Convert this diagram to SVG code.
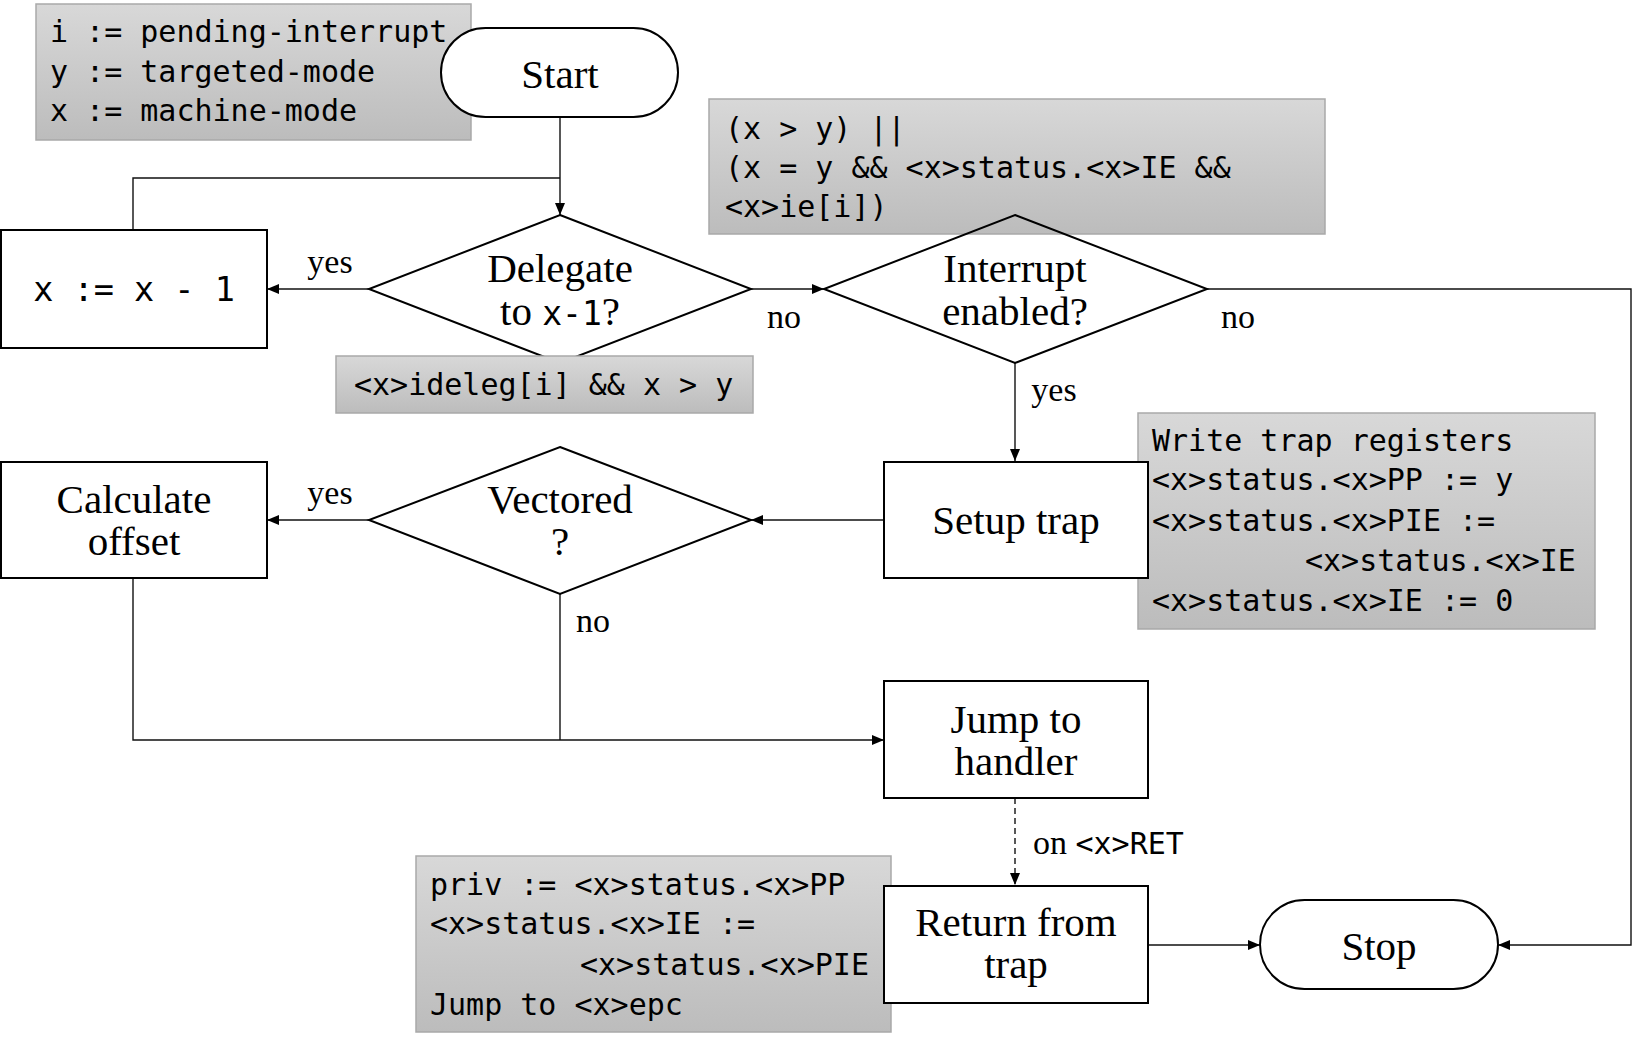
<svg xmlns="http://www.w3.org/2000/svg" width="1634" height="1044" viewBox="0 0 1634 1044">
<style>
.node{fill:#fff;stroke:#000;stroke-width:2}
.dia{fill:none;stroke:#000;stroke-width:2}
.note{fill:url(#g);stroke:#a9a9a9;stroke-width:1.5}
.lbl{font-family:"Liberation Serif",serif;font-size:41px;fill:#000;text-anchor:middle}
.edge{font-family:"Liberation Serif",serif;font-size:34px;fill:#000;text-anchor:middle}
.mono{font-family:"DejaVu Sans Mono","Liberation Mono",monospace;font-size:30px;fill:#000}
.c{fill:none;stroke:#111;stroke-width:1.4}
</style>
<defs>
<linearGradient id="g" x1="0" y1="0" x2="0" y2="1">
<stop offset="0" stop-color="#d8d8d8"/>
<stop offset="1" stop-color="#bcbcbc"/>
</linearGradient>
<marker id="a" viewBox="0 0 12 10" refX="12" refY="5" markerWidth="12" markerHeight="10" markerUnits="userSpaceOnUse" orient="auto">
<path d="M0,0 L12,5 L0,10 z" fill="#000"/>
</marker>
</defs>

<g id="note-init">
<rect class="note" x="36" y="4" width="435" height="136"/>
<text class="mono" x="50" y="42">i := pending-interrupt</text>
<text class="mono" x="50" y="82">y := targeted-mode</text>
<text class="mono" x="50" y="121">x := machine-mode</text>
</g>
<g id="note-enabled">
<rect class="note" x="709" y="99" width="616" height="135"/>
<text class="mono" x="725" y="139">(x &gt; y) ||</text>
<text class="mono" x="725" y="178">(x = y &amp;&amp; &lt;x&gt;status.&lt;x&gt;IE &amp;&amp;</text>
<text class="mono" x="725" y="217">&lt;x&gt;ie[i])</text>
</g>
<g id="note-trapregs">
<rect class="note" x="1138" y="413" width="457" height="216"/>
<text class="mono" x="1152" y="451">Write trap registers</text>
<text class="mono" x="1152" y="490">&lt;x&gt;status.&lt;x&gt;PP := y</text>
<text class="mono" x="1152" y="531">&lt;x&gt;status.&lt;x&gt;PIE :=</text>
<text class="mono" x="1305" y="571">&lt;x&gt;status.&lt;x&gt;IE</text>
<text class="mono" x="1152" y="611">&lt;x&gt;status.&lt;x&gt;IE := 0</text>
</g>
<g id="note-ret">
<rect class="note" x="416" y="856" width="475" height="176"/>
<text class="mono" x="430" y="895">priv := &lt;x&gt;status.&lt;x&gt;PP</text>
<text class="mono" x="430" y="934">&lt;x&gt;status.&lt;x&gt;IE :=</text>
<text class="mono" x="580" y="975">&lt;x&gt;status.&lt;x&gt;PIE</text>
<text class="mono" x="430" y="1015">Jump to &lt;x&gt;epc</text>
</g>

<g id="connectors">
<path class="c" d="M560,117 V215" marker-end="url(#a)"/>
<path class="c" d="M133,230 V178 H560"/>
<path class="c" d="M369,289 H267" marker-end="url(#a)"/>
<path class="c" d="M751,289 H824" marker-end="url(#a)"/>
<path class="c" d="M1207,289 H1631 V945 H1498" marker-end="url(#a)"/>
<path class="c" d="M1015,363 V461" marker-end="url(#a)"/>
<path class="c" d="M884,520 H751" marker-end="url(#a)"/>
<path class="c" d="M369,520 H267" marker-end="url(#a)"/>
<path class="c" d="M133,578 V740 H884" marker-end="url(#a)"/>
<path class="c" d="M560,594 V740"/>
<path class="c" d="M1015,798 V885" stroke-dasharray="6,4" marker-end="url(#a)"/>
<path class="c" d="M1148,945 H1260" marker-end="url(#a)"/>
<text class="edge" x="330" y="273">yes</text>
<text class="edge" x="784" y="328">no</text>
<text class="edge" x="1238" y="328">no</text>
<text class="edge" x="1054" y="401">yes</text>
<text class="edge" x="330" y="504">yes</text>
<text class="edge" x="593" y="632">no</text>
<text class="edge" x="1033" y="854" style="text-anchor:start">on <tspan class="mono">&lt;x&gt;RET</tspan></text>
</g>

<g id="start">
<rect class="node" x="441" y="28" width="237" height="89" rx="44.5" ry="44.5"/>
<text class="lbl" x="560" y="88">Start</text>
</g>
<g id="dec">
<rect class="node" x="1" y="230" width="266" height="118"/>
<text class="mono" x="134" y="301" style="font-size:33.5px;text-anchor:middle">x := x - 1</text>
</g>
<g id="delegate">
<polygon class="dia" points="560,215 751,289 560,363 369,289"/>
<text class="lbl" x="560" y="282">Delegate</text>
<text class="lbl" x="560" y="325">to <tspan class="mono" style="font-size:33px">x-1</tspan>?</text>
</g>
<g id="note-deleg">
<rect class="note" x="336" y="356" width="417" height="57"/>
<text class="mono" x="354" y="395">&lt;x&gt;ideleg[i] &amp;&amp; x &gt; y</text>
</g>
<g id="interrupt">
<polygon class="dia" points="1015,215 1207,289 1015,363 824,289"/>
<text class="lbl" x="1015" y="282">Interrupt</text>
<text class="lbl" x="1015" y="325">enabled?</text>
</g>
<g id="setup">
<rect class="node" x="884" y="462" width="264" height="116"/>
<text class="lbl" x="1016" y="534">Setup trap</text>
</g>
<g id="vectored">
<polygon class="dia" points="560,447 751,520 560,594 369,520"/>
<text class="lbl" x="560" y="513">Vectored</text>
<text class="lbl" x="560" y="555">?</text>
</g>
<g id="calc">
<rect class="node" x="1" y="462" width="266" height="116"/>
<text class="lbl" x="134" y="513">Calculate</text>
<text class="lbl" x="134" y="555">offset</text>
</g>
<g id="jump">
<rect class="node" x="884" y="681" width="264" height="117"/>
<text class="lbl" x="1016" y="733">Jump to</text>
<text class="lbl" x="1016" y="775">handler</text>
</g>
<g id="return">
<rect class="node" x="884" y="886" width="264" height="117"/>
<text class="lbl" x="1016" y="936">Return from</text>
<text class="lbl" x="1016" y="978">trap</text>
</g>
<g id="stop">
<rect class="node" x="1260" y="900" width="238" height="89" rx="44.5" ry="44.5"/>
<text class="lbl" x="1379" y="960">Stop</text>
</g>
</svg>
